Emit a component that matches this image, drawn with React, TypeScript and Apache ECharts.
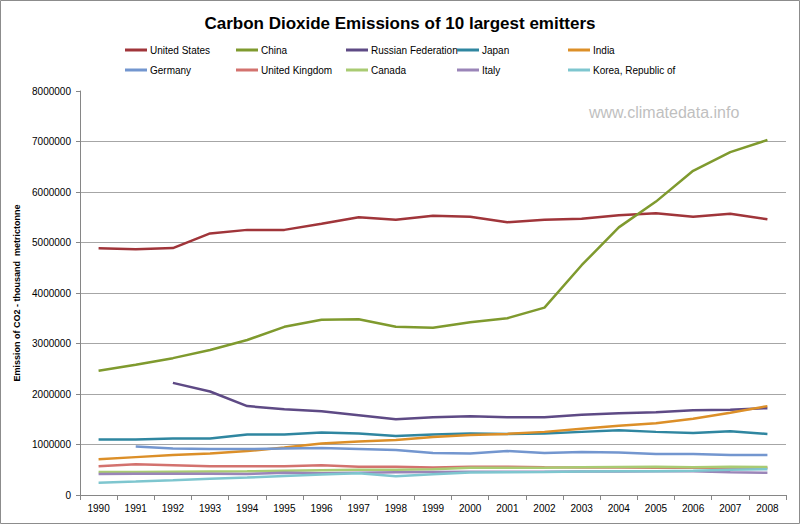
import React, { useEffect, useRef } from "react";
import * as echarts from "echarts";

const years = ["1990","1991","1992","1993","1994","1995","1996","1997","1998","1999","2000","2001","2002","2003","2004","2005","2006","2007","2008"];

const unitedStates = [4885000,4865000,4890000,5180000,5250000,5250000,5370000,5500000,5450000,5530000,5510000,5400000,5450000,5470000,5540000,5580000,5510000,5570000,5460000];
const china = [2460000,2580000,2710000,2870000,3070000,3330000,3470000,3480000,3330000,3310000,3420000,3500000,3710000,4550000,5300000,5810000,6420000,6790000,7030000];
const russia = [null,null,2220000,2050000,1760000,1700000,1660000,1580000,1500000,1540000,1560000,1540000,1540000,1590000,1620000,1640000,1680000,1690000,1720000];
const japan = [1100000,1100000,1120000,1120000,1200000,1200000,1240000,1220000,1170000,1200000,1220000,1210000,1220000,1250000,1280000,1250000,1230000,1260000,1210000];
const india = [710000,750000,790000,820000,870000,940000,1020000,1060000,1090000,1150000,1190000,1210000,1250000,1310000,1370000,1420000,1510000,1630000,1760000];
const germany = [null,960000,920000,910000,910000,920000,930000,910000,890000,830000,820000,870000,830000,850000,840000,810000,810000,790000,790000];
const unitedKingdom = [570000,610000,590000,570000,570000,570000,590000,560000,560000,545000,560000,560000,550000,545000,545000,540000,545000,535000,535000];
const canada = [455000,455000,460000,465000,470000,480000,490000,500000,500000,510000,540000,540000,540000,550000,555000,560000,550000,560000,555000];
const italy = [415000,420000,420000,420000,415000,440000,430000,440000,450000,455000,460000,460000,460000,465000,465000,470000,470000,450000,440000];
const korea = [245000,265000,290000,320000,345000,375000,405000,430000,370000,410000,445000,450000,455000,465000,470000,470000,480000,500000,510000];

const seriesNames = ["United States","China","Russian Federation","Japan","India","Germany","United Kingdom","Canada","Italy","Korea, Republic of"];
const seriesData = [unitedStates, china, russia, japan, india, germany, unitedKingdom, canada, italy, korea];
const seriesColors = ["#A0353A","#7F9A2E","#5E4A85","#2F86A0","#DC8F28","#7396CF","#D3726E","#A9CB72","#9A85B8","#7EC6CF"];

const yTicks = { min: 0, max: 8000000, interval: 1000000 };

const FONT = "'Liberation Sans', Arial, sans-serif";

export default function App() {
  const ref = useRef<HTMLDivElement>(null);
  useEffect(() => {
    if (!ref.current) return;
    const chart = echarts.init(ref.current, null, { renderer: "svg" });
    const legendCols = [125, 236, 346, 457, 568];
    const legendRows = [45, 65];
    const legends = seriesNames.map((name, i) => ({
      data: [name],
      left: legendCols[i % 5],
      top: legendRows[Math.floor(i / 5)],
      icon: "rect",
      itemWidth: 22,
      itemHeight: 3,
      padding: 0,
      textStyle: { fontFamily: FONT, fontSize: 10, color: "#000", padding: [0, 0, 0, -2] },
    }));
    chart.setOption({
      animation: false,
      backgroundColor: "#fff",
      title: {
        text: "Carbon Dioxide Emissions of 10 largest emitters",
        left: "center",
        top: 10,
        textStyle: { fontFamily: FONT, fontSize: 17, fontWeight: "bold", color: "#000" },
      },
      legend: legends,
      grid: { left: 80, right: 14, top: 91, bottom: 29, containLabel: false },
      xAxis: {
        type: "category",
        data: years,
        boundaryGap: true,
        axisLine: { lineStyle: { color: "#868686", width: 1 } },
        axisTick: { show: true, length: 5, lineStyle: { color: "#868686" } },
        axisLabel: { fontFamily: FONT, fontSize: 10, color: "#000", margin: 8 },
        splitLine: { show: false },
      },
      yAxis: {
        type: "value",
        min: yTicks.min,
        max: yTicks.max,
        interval: yTicks.interval,
        name: "Emission of CO2 - thousand  metrictonne",
        nameLocation: "middle",
        nameGap: 50,
        nameTextStyle: { fontFamily: FONT, fontSize: 9, fontWeight: "bold", color: "#000" },
        axisLine: { show: true, lineStyle: { color: "#868686", width: 1 } },
        axisTick: { show: true, length: 4, lineStyle: { color: "#868686" } },
        axisLabel: { fontFamily: FONT, fontSize: 10, color: "#000", margin: 9, formatter: (v: number) => String(v) },
        splitLine: { show: true, showMinLine: false, showMaxLine: false, lineStyle: { color: "#A6A6A6", width: 1 } },
      },
      graphic: [
        {
          type: "rect",
          shape: { x: 0.5, y: 0.5, width: 799, height: 523 },
          style: { fill: "none", stroke: "#8C8C8C", lineWidth: 1 },
          silent: true,
        },
        {
          type: "text",
          left: 589,
          top: 104,
          style: { text: "www.climatedata.info", fontFamily: FONT, fontSize: 16, fill: "#BFBFBF" },
          silent: true,
        },
      ],
      series: seriesNames.map((name, i) => ({
        name,
        type: "line",
        data: seriesData[i],
        symbol: "none",
        connectNulls: false,
        lineStyle: { width: 2.5, color: seriesColors[i] },
        itemStyle: { color: seriesColors[i] },
        z: 2,
      })),
    });
    return () => chart.dispose();
  }, []);
  return <div ref={ref} style={{ position: "absolute", left: 0, top: 0, width: 800, height: 524 }} />;
}
